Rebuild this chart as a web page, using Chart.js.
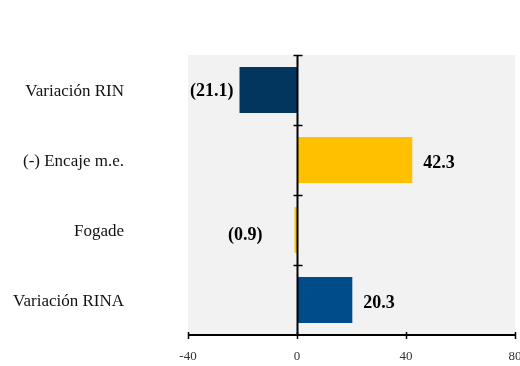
<!DOCTYPE html>
<html>
<head>
<meta charset="utf-8">
<script src="https://cdn.jsdelivr.net/npm/chart.js@4"></script>
<style>
  html, body { margin: 0; padding: 0; background: #ffffff; }
  #wrap { position: relative; width: 520px; height: 366px; }
</style>
</head>
<body>
<div id="wrap"><canvas id="c"></canvas></div>
<script>
// Components of the change in reserves
const categories = ['Variación RIN', '(-) Encaje m.e.', 'Fogade', 'Variación RINA'];
const values = [-21.1, 42.3, -0.9, 20.3];
const barColors = ['#03365f', '#ffc000', '#ffc000', '#004b8a'];
const xTicks = [-40, 0, 40, 80];

const fmt = v => v < 0 ? '(' + Math.abs(v).toFixed(1) + ')' : v.toFixed(1);

// Light grey plot background
const plotBg = {
  id: 'plotBg',
  beforeDraw(chart) {
    const { ctx, chartArea: a } = chart;
    ctx.save();
    ctx.fillStyle = '#f2f2f2';
    ctx.fillRect(a.left, a.top, a.right - a.left, a.bottom - a.top);
    ctx.restore();
  }
};

// Zero line with category separators and bottom axis with crossing ticks
const axes = {
  id: 'axes',
  afterDatasetsDraw(chart) {
    const { ctx, chartArea: a, scales } = chart;
    const x0 = Math.round(scales.x.getPixelForValue(0)) + 0.5;
    const n = categories.length;
    ctx.save();
    ctx.strokeStyle = '#000';
    ctx.lineWidth = 2;
    ctx.beginPath();
    ctx.moveTo(x0, a.top);
    ctx.lineTo(x0, a.bottom);
    ctx.moveTo(a.left, a.bottom);
    ctx.lineTo(a.right, a.bottom);
    ctx.stroke();
    ctx.lineWidth = 1.5;
    ctx.beginPath();
    for (let i = 0; i < n; i++) {
      const y = Math.round(a.top + i * (a.bottom - a.top) / n) + 0.5;
      ctx.moveTo(x0 - 4, y);
      ctx.lineTo(x0 + 5, y);
    }
    xTicks.forEach(t => {
      const x = Math.round(scales.x.getPixelForValue(t)) + 0.5;
      ctx.moveTo(x, a.bottom - 3);
      ctx.lineTo(x, a.bottom + 4);
    });
    ctx.stroke();
    ctx.restore();
  }
};

// Value labels beside each bar
const valueLabels = {
  id: 'valueLabels',
  afterDatasetsDraw(chart) {
    const { ctx } = chart;
    const meta = chart.getDatasetMeta(0);
    const x0 = chart.scales.x.getPixelForValue(0);
    ctx.save();
    ctx.font = 'bold 18px "Liberation Serif", serif';
    ctx.fillStyle = '#000';
    ctx.textBaseline = 'middle';
    meta.data.forEach((bar, i) => {
      const v = values[i];
      const txt = fmt(v);
      if (v < 0) {
        ctx.textAlign = 'right';
        const small = (x0 - bar.x) < 10;
        ctx.fillText(txt, bar.x - (small ? 32 : 6), bar.y + (small ? 5 : 1));
      } else {
        ctx.textAlign = 'left';
        ctx.fillText(txt, bar.x + 11, bar.y + 3);
      }
    });
    ctx.restore();
  }
};

const noEdgePadding = scale => {
  scale.paddingLeft = 0;
  scale.paddingRight = 0;
  scale.paddingTop = 0;
  scale.paddingBottom = 0;
};

new Chart(document.getElementById('c'), {
  type: 'bar',
  data: {
    labels: categories,
    datasets: [{
      data: values,
      backgroundColor: barColors,
      borderWidth: 0,
      barPercentage: 0.66,
      categoryPercentage: 1
    }]
  },
  options: {
    indexAxis: 'y',
    responsive: true,
    maintainAspectRatio: false,
    animation: false,
    devicePixelRatio: 1,
    layout: { padding: { top: 55, right: 5, left: 0, bottom: 0 } },
    plugins: { legend: { display: false }, tooltip: { enabled: false } },
    scales: {
      x: {
        min: -40, max: 80,
        afterBuildTicks(scale) { scale.ticks = xTicks.map(v => ({ value: v })); },
        grid: { display: false, drawTicks: false },
        border: { display: false },
        ticks: {
          padding: 14,
          color: '#333',
          font: { family: '"Liberation Serif", serif', size: 13 },
          maxRotation: 0
        },
        afterFit(scale) { scale.height = 31; noEdgePadding(scale); }
      },
      y: {
        grid: { display: false, drawTicks: false },
        border: { display: false },
        ticks: {
          padding: 64,
          labelOffset: 2,
          color: '#111',
          font: { family: '"Liberation Serif", serif', size: 17 }
        },
        afterFit(scale) { scale.width = 188; noEdgePadding(scale); }
      }
    }
  },
  plugins: [plotBg, axes, valueLabels]
});
</script>
</body>
</html>
